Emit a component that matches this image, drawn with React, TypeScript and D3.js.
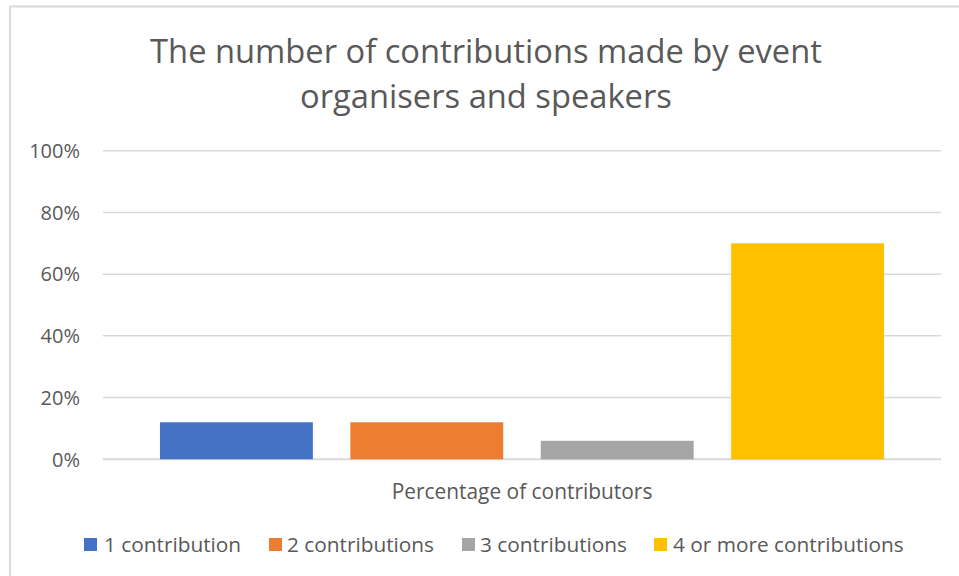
import React from "react";
import * as d3 from "d3";

const titleLines = ["The number of contributions made by event", "organisers and speakers"];
const category = "Percentage of contributors";
const seriesNames = ["1 contribution", "2 contributions", "3 contributions", "4 or more contributions"];
const seriesValues = [0.12, 0.12, 0.06, 0.70];
const seriesColors = ["#4472C4", "#ED7D31", "#A5A5A5", "#FFC000"];
const yTicks = [0, 0.2, 0.4, 0.6, 0.8, 1.0];

const W = 959;
const H = 576;
const FONT = "'Open Sans', 'Noto Sans', sans-serif";
const TEXT = "#595959";
const GRID = "#D9D9D9";

export default function App() {
  const plotLeft = 103;
  const plotRight = 941;
  const plotTop = 150.7;
  const plotBottom = 459.3;

  const y = d3.scaleLinear().domain([0, 1]).range([plotBottom, plotTop]);
  const xOuter = d3.scaleBand<string>().domain([category]).range([plotLeft, plotRight]).paddingInner(0).paddingOuter(0.0787);
  const xInner = d3
    .scaleBand<string>()
    .domain(seriesNames)
    .range([0, xOuter.bandwidth()])
    .paddingInner(0.197)
    .paddingOuter(0);
  const fmt = d3.format(".0%");

  const legendItems = [
    { sq: 84, tx: 104 },
    { sq: 269, tx: 287 },
    { sq: 462, tx: 480 },
    { sq: 654, tx: 673 },
  ];

  return (
    <svg width={W} height={H} style={{ position: "absolute", left: 0, top: 0 }} fontFamily={FONT}>
      <rect x={0} y={0} width={W} height={H} fill="#fff" />
      {/* chart border */}
      <path d={`M10,${H} L10,6.5 L${W},6.5`} fill="none" stroke={GRID} strokeWidth={2} />

      {/* title */}
      {titleLines.map((t, i) => (
        <text key={i} x={486} y={63 + i * 45} textAnchor="middle" fontSize={32.7} fill={TEXT}>
          {t}
        </text>
      ))}

      {/* gridlines */}
      {yTicks.map((t) => (
        <line key={t} x1={plotLeft} x2={plotRight} y1={y(t)} y2={y(t)} stroke={GRID} strokeWidth={t === 0 ? 2 : 1.5} />
      ))}

      {/* y tick labels */}
      {yTicks.map((t) => (
        <text key={"l" + t} x={80} y={y(t)} dy="0.36em" textAnchor="end" fontSize={20} fill={TEXT}>
          {fmt(t)}
        </text>
      ))}

      {/* bars */}
      {seriesNames.map((s, i) => (
        <rect
          key={s}
          x={(xOuter(category) as number) + (xInner(s) as number)}
          y={y(seriesValues[i])}
          width={xInner.bandwidth()}
          height={y(0) - y(seriesValues[i])}
          fill={seriesColors[i]}
        />
      ))}

      {/* x category label */}
      <text x={(xOuter(category) as number) + xOuter.bandwidth() / 2} y={491} dy="0.36em" textAnchor="middle" fontSize={20.9} fill={TEXT}>
        {category}
      </text>

      {/* legend */}
      {seriesNames.map((s, i) => (
        <g key={"lg" + s}>
          <rect x={legendItems[i].sq} y={538} width={13} height={13} fill={seriesColors[i]} />
          <text x={legendItems[i].tx} y={544.5} dy="0.36em" fontSize={20.8} fill={TEXT}>
            {s}
          </text>
        </g>
      ))}
    </svg>
  );
}
